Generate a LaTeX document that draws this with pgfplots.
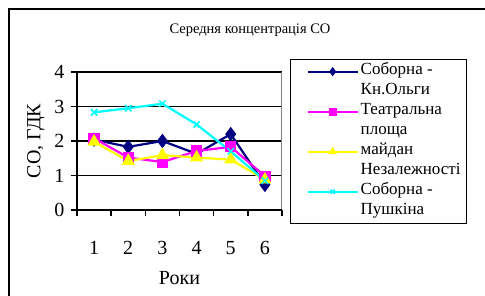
\documentclass[border=0pt]{standalone}
\usepackage{pgfplots}
\pgfplotsset{compat=1.18}
\usepackage{fontspec}
\setmainfont{Liberation Serif}
\definecolor{cNavy}{HTML}{000080}
\definecolor{cMag}{HTML}{FF00FF}
\definecolor{cYel}{HTML}{FFFF00}
\definecolor{cCyan}{HTML}{00FFFF}
\begin{document}
\begin{tikzpicture}
\path[use as bounding box] (0,0) rectangle (485pt,-295pt);
\draw[line width=1.6pt] (9pt,-300pt) -- (9pt,-9pt) -- (490pt,-9pt);
\node[font=\fontsize{14.5}{16}\selectfont] at (250pt,-30pt) {Середня концентрація СО};
\begin{axis}[
  at={(77pt,-210pt)}, anchor=south west,
  scale only axis, width=205pt, height=138pt,
  xmin=0.5, xmax=6.5, ymin=0, ymax=4,
  xtick={0.5,1.5,2.5,3.5,4.5,5.5,6.5},
  xticklabels={1,2,3,4,5,6,},
  xticklabel style={xshift=17.08pt, yshift=-22pt},
  ytick={0,...,4}, major tick length=6pt,
  tick align=outside, xtick pos=bottom, ytick pos=left,
  xtick style={draw=black, line width=1.4pt},
  ytick style={draw=black, line width=1.2pt},
  ymajorgrids, grid style={black, line width=1.2pt},
  axis line style={draw=none},
  /pgf/number format/assume math mode=true,
  ticklabel style={font=\fontsize{20}{20}\selectfont},
  yticklabel style={xshift=-3pt},
  xlabel={Роки}, ylabel={СО, ГДК},
  label style={font=\fontsize{20}{20}\selectfont},
  xlabel style={at={(axis description cs:0.5,-0.496)}, anchor=center},
  ylabel style={at={(axis description cs:-0.2,0.5)}, anchor=center, rotate=0},
  clip=false,
  legend style={at={(1.039,1.094)}, anchor=north west, draw=black, line width=1.2pt,
    font=\fontsize{17}{20}\selectfont, row sep=0pt, inner xsep=4pt, inner ysep=2pt,
    nodes={inner ysep=0pt, text height=13pt, text depth=7pt}},
  legend cell align=left,
  legend image code/.code={\path (-12pt,0pt); \draw[line width=2pt, mark size=3pt] plot coordinates {(0pt,0pt) (25pt,0pt) (50pt,0pt)};},
  legend image post style={mark repeat=2, mark phase=2, mark size=3pt},
]
\draw[gray, line width=1pt] (axis cs:6.5,0) -- (axis cs:6.5,4);
\draw[black, line width=1.2pt] (axis cs:0.5,4) -- (axis cs:0.5,0) -- (axis cs:6.5,0);
\pgfplotsinvokeforeach{0.5,1.5,2.5,3.5,4.5,5.5,6.5}{\draw[black, line width=1.4pt] (axis cs:#1,0) -- ++(0pt,-6pt);}
\addplot[cNavy, line width=2.2pt, mark=diamond*, mark size=5.5pt, mark options={fill=cNavy}] coordinates {(1,2.04) (2,1.83) (3,2.0) (4,1.63) (5,2.2) (6,0.73)};
\addlegendentry{Соборна -}
\addlegendimage{empty legend}\addlegendentry{Кн.Ольги}
\addplot[cMag, line width=2.2pt, mark=square*, mark size=4.5pt, mark options={fill=cMag}] coordinates {(1,2.08) (2,1.52) (3,1.39) (4,1.71) (5,1.83) (6,0.98)};
\addlegendentry{Театральна}
\addlegendimage{empty legend}\addlegendentry{площа}
\addplot[cYel, line width=2.2pt, mark=triangle*, mark size=5.5pt, mark options={fill=cYel}] coordinates {(1,1.98) (2,1.42) (3,1.59) (4,1.52) (5,1.46) (6,0.88)};
\addlegendentry{майдан}
\addlegendimage{empty legend}\addlegendentry{Незалежності}
\addplot[cCyan, line width=2.2pt, mark=x, mark size=4.5pt, mark options={line width=1.5pt}] coordinates {(1,2.83) (2,2.95) (3,3.08) (4,2.48) (5,1.70) (6,0.85)};
\addlegendentry{Соборна -}
\addlegendimage{empty legend}\addlegendentry{Пушкіна}
\end{axis}
\end{tikzpicture}
\end{document}
